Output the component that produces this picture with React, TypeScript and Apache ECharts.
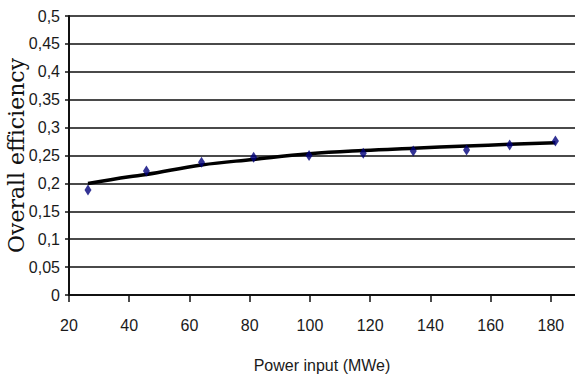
import React, { useEffect, useRef } from "react";
import * as echarts from "echarts";

const powerInput = [26.3, 45.7, 64, 81.3, 99.7, 117.7, 134.3, 152, 166.3, 181.5];
const efficiency = [0.188, 0.222, 0.238, 0.247, 0.25, 0.254, 0.258, 0.26, 0.269, 0.276];

const trendX = [26.3, 40, 45.7, 64, 81.3, 99.7, 117.7, 134.3, 152, 166.3, 181.5];
const trendY = [0.2, 0.212, 0.216, 0.233, 0.243, 0.253, 0.259, 0.263, 0.267, 0.27, 0.273];

const xTickValues = [20, 40, 60, 80, 100, 120, 140, 160, 180];

export default function App() {
  const ref = useRef<HTMLDivElement>(null);
  useEffect(() => {
    if (!ref.current) return;
    const chart = echarts.init(ref.current, null, { renderer: "svg" });
    const sans = "'Liberation Sans', Arial, sans-serif";
    chart.setOption({
      animation: false,
      backgroundColor: "#ffffff",
      grid: { left: 69, right: 0, top: 16, bottom: 81, outerBoundsMode: "none", containLabel: false },
      xAxis: {
        type: "value",
        min: 20,
        max: 188,
        interval: 20,
        name: "Power input (MWe)",
        nameLocation: "middle",
        nameGap: 62,
        nameMoveOverlap: false,
        nameTextStyle: { fontFamily: sans, fontSize: 16, color: "#1a1a1a" },
        axisLine: { show: true, lineStyle: { color: "#111", width: 2 } },
        axisTick: { show: true, length: 7, lineStyle: { color: "#111", width: 1.5 } },
        axisLabel: {
          margin: 22,
          fontFamily: sans,
          fontSize: 16,
          color: "#1a1a1a",
          showMaxLabel: false,
          formatter: (v: number) => (xTickValues.includes(v) ? String(v) : ""),
        },
        splitLine: { show: false },
      },
      yAxis: {
        type: "value",
        min: 0,
        max: 0.5,
        interval: 0.05,
        name: "Overall efficiency",
        nameLocation: "middle",
        nameGap: 42,
        nameMoveOverlap: false,
        nameTextStyle: { fontFamily: "'DejaVu Serif', 'Liberation Serif', serif", fontSize: 22, color: "#111" },
        axisLine: { show: true, lineStyle: { color: "#111", width: 2 } },
        axisTick: { show: true, length: 4, lineStyle: { color: "#111", width: 1.5 } },
        axisLabel: {
          margin: 9,
          fontFamily: sans,
          fontSize: 16,
          color: "#1a1a1a",
          formatter: (v: number) => String(+v.toFixed(2)).replace(".", ","),
        },
        splitLine: { show: true, lineStyle: { color: "#4a4a4a", width: 2 } },
      },
      series: [
        {
          type: "line",
          data: trendX.map((x, i) => [x, trendY[i]]),
          smooth: 0.4,
          showSymbol: false,
          symbol: "none",
          lineStyle: { color: "#000", width: 3.5 },
          z: 2,
        },
        {
          type: "scatter",
          data: powerInput.map((x, i) => [x, efficiency[i]]),
          symbol: "diamond",
          symbolSize: [7, 11],
          itemStyle: { color: "#00007a" },
          z: 3,
        },
      ],
    });
    return () => chart.dispose();
  }, []);
  return (
    <div
      ref={ref}
      style={{ position: "fixed", left: 0, top: 0, width: 575, height: 376 }}
    />
  );
}
